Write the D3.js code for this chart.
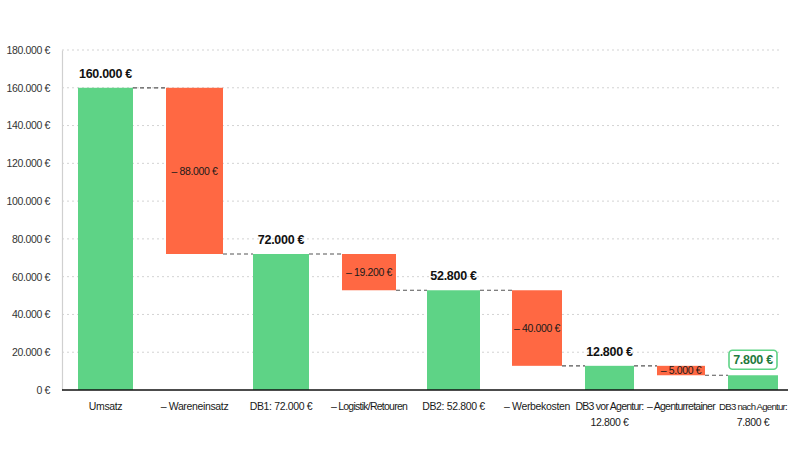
<!DOCTYPE html>
<html><head><meta charset="utf-8">
<script src="https://cdn.jsdelivr.net/npm/d3@7"></script>
<style>
html,body{margin:0;padding:0;background:#fff;}
svg{display:block;font-family:"Liberation Sans",Arial,Helvetica,sans-serif;}
</style></head>
<body><svg id="chart" width="800" height="450"></svg>
<script>
// ---- data ----
const categories = ["Umsatz","– Wareneinsatz","DB1: 72.000 €","– Logistik/Retouren","DB2: 52.800 €","– Werbekosten","DB3 vor Agentur:\n12.800 €","– Agenturretainer","DB3 nach Agentur:\n7.800 €"];
const values = [160000,-88000,72000,-19200,52800,-40000,12800,-5000,7800];
const kinds = ["total","delta","total","delta","total","delta","total","delta","final"];
const yTicks = [0,20000,40000,60000,80000,100000,120000,140000,160000,180000];

// ---- layout (positions, not data) ----
const barCenters = [105.5,194.5,281,369,453.5,537,609.5,681,753];
const barWidths  = [55,57,56,54,53,50,49,48,50];

const svg = d3.select("#chart");
const x0 = 62, x1 = 788, yTop = 50, yBase = 390;

const loc = d3.formatLocale({decimal:",", thousands:".", grouping:[3], currency:[""," €"]});
const fmt = v => loc.format(",.0f")(v) + " €";

const y = d3.scaleLinear().domain([0,180000]).range([yBase, yTop]);
const xc = d3.scaleOrdinal().domain(categories).range(barCenters);
const bw = d3.scaleOrdinal().domain(categories).range(barWidths);

// compute waterfall
let running = 0;
const bars = categories.map((c,i) => {
  let start, end;
  if (kinds[i] === "delta") { start = running; end = running + values[i]; running = end; }
  else { start = 0; end = values[i]; running = end; }
  return {cat:c, i, kind:kinds[i], value:values[i], start, end};
});

// grid
svg.append("g").selectAll("line").data(yTicks.filter(t=>t>0)).join("line")
  .attr("x1", x0).attr("x2", 782)
  .attr("y1", d=>y(d)).attr("y2", d=>y(d))
  .attr("stroke", "#d3d3d3").attr("stroke-width", 1).attr("stroke-dasharray","2,3");

// y axis
const yAxis = d3.axisLeft(y).tickValues(yTicks).tickFormat(fmt).tickSize(0).tickPadding(12);
const ya = svg.append("g").attr("transform", `translate(${x0},0)`).call(yAxis);
ya.select(".domain").attr("stroke","#d0d0d0").attr("stroke-width",1.2);
ya.selectAll("text").attr("font-size", "10.5px").attr("fill","#333")
  .attr("letter-spacing","-0.35px").attr("font-family","Liberation Sans, Arial, sans-serif");

// bars
svg.append("g").selectAll("rect").data(bars).join("rect")
  .attr("x", d => xc(d.cat) - bw(d.cat)/2)
  .attr("width", d => bw(d.cat))
  .attr("y", d => y(Math.max(d.start,d.end)))
  .attr("height", d => Math.abs(y(d.start) - y(d.end)))
  .attr("fill", d => d.kind === "delta" ? "#ff6843" : "#5ed386");

// connectors
const conn = bars.slice(0,-1).map((d,k) => ({level: d.end, xa: xc(d.cat)+bw(d.cat)/2, xb: xc(bars[k+1].cat)-bw(bars[k+1].cat)/2}));
svg.append("g").selectAll("line").data(conn).join("line")
  .attr("x1", d=>d.xa).attr("x2", d=>d.xb)
  .attr("y1", d=>y(d.level)).attr("y2", d=>y(d.level))
  .attr("stroke","#555").attr("stroke-width",1.2).attr("stroke-dasharray","4,3");

// baseline
svg.append("line").attr("x1", x0).attr("x2", x1).attr("y1", y(0)).attr("y2", y(0))
  .attr("stroke","#111").attr("stroke-width",1.6);

// total labels
svg.append("g").selectAll("text").data(bars.filter(d=>d.kind==="total")).join("text")
  .attr("x", d=>xc(d.cat)).attr("y", d=>y(d.end)-10)
  .attr("text-anchor","middle").attr("font-size","12.5px").attr("font-weight","bold")
  .attr("letter-spacing","-0.3px").attr("fill","#111")
  .text(d=>fmt(d.value));

// delta labels
svg.append("g").selectAll("text").data(bars.filter(d=>d.kind==="delta")).join("text")
  .attr("x", d=>xc(d.cat)).attr("y", d=>(y(d.start)+y(d.end))/2)
  .attr("dy","0.36em")
  .attr("text-anchor","middle").attr("font-size","10.5px")
  .attr("letter-spacing","-0.35px").attr("fill","#1a1a1a")
  .text(d=>"– " + fmt(Math.abs(d.value)));

// final label with box
const fin = bars.filter(d=>d.kind==="final");
const fg = svg.append("g").selectAll("g").data(fin).join("g");
fg.append("rect")
  .attr("x", d=>xc(d.cat)-24).attr("width",48)
  .attr("y", d=>y(d.end)-25).attr("height",19).attr("rx",3.5)
  .attr("fill","#fff").attr("stroke","#5ed386").attr("stroke-width",1.6);
fg.append("text")
  .attr("x", d=>xc(d.cat)).attr("y", d=>y(d.end)-15.5).attr("dy","0.36em")
  .attr("text-anchor","middle").attr("font-size","12.5px").attr("font-weight","bold")
  .attr("letter-spacing","-0.3px").attr("fill","#1f7a3d")
  .text(d=>fmt(d.value));

// category labels (each line is its own text element, shrunk to fit its slot)
const clg = svg.append("g");
bars.forEach((d,i)=>{
  const lines = d.cat.split("\n");
  const left = i>0 ? barCenters[i]-barCenters[i-1] : 200;
  const right = i<barCenters.length-1 ? barCenters[i+1]-barCenters[i] : 2*(796-barCenters[i]);
  const maxW = Math.min(left,right) - 3;
  lines.forEach((ln,k)=>{
    const t = clg.append("text")
      .attr("x", xc(d.cat)).attr("y", 410 + k*16)
      .attr("text-anchor","middle").attr("font-size","10.5px").attr("fill","#1a1a1a")
      .attr("letter-spacing","-0.35px").text(ln);
    let w = t.node().getComputedTextLength();
    if (w > maxW) {
      t.attr("letter-spacing","-0.75px");
      w = t.node().getComputedTextLength();
      if (w > maxW) t.attr("font-size", (10.5*maxW/w).toFixed(2)+"px");
    }
  });
});
</script></body></html>
